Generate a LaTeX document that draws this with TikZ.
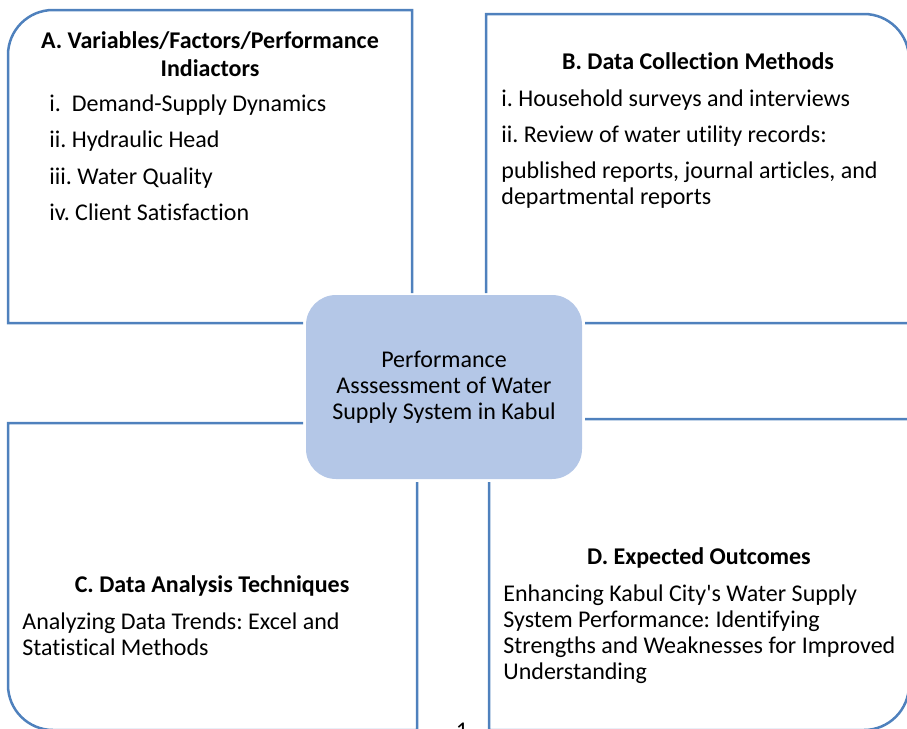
\documentclass[tikz,border=0pt]{standalone}
\usepackage{fontspec}
\setmainfont{Carlito}[Ligatures={TeX,NoCommon}]
\frenchspacing
\usepackage{tikz}
\usetikzlibrary{positioning}
\definecolor{framecol}{HTML}{4F81BD}
\definecolor{hubfill}{HTML}{B4C7E7}

\begin{document}
\begin{tikzpicture}[
x=0.5pt, y=-0.5pt,
Frames/.style={draw=framecol, line width=1.25pt},
Hub/.style={fill=hubfill, rounded corners=15pt, minimum width=138pt, minimum height=92pt, inner sep=0pt, align=center, font=\fontsize{12}{13}\selectfont},
Heads/.style={font=\fontsize{12}{13}\selectfont\bfseries, inner sep=0pt, anchor=base},
Items/.style={font=\fontsize{12}{13}\selectfont, inner sep=0pt, anchor=base west}
]
\useasboundingbox (0,0) rectangle (907,729);
\clip (0,0) rectangle (907,729);

% four quarter frames, one rounded outer corner each
\draw[Frames] (303,323) -- (8,323) -- (8,55) arc(180:270:45) -- (412,10) -- (412,293);
\draw[Frames] (486,293) -- (486,14) -- (864,14) arc(270:360:45) -- (909,323) -- (585,323);
\draw[Frames] (303,423) -- (8,423) -- (8,685) arc(180:90:45) -- (417,730) -- (417,482);
\draw[Frames] (585,419) -- (909,419) -- (909,685) arc(0:90:45) -- (489,730) -- (489,482);

% centre
\node[Hub] (hub) at (444,387) {Performance\\Asssessment of Water\\Supply System in Kabul};

% A
\node[Heads] (headA) at (210,48) {\begin{tabular}[t]{@{}c@{}}A. Variables/Factors/Performance\\[1pt] Indiactors\end{tabular}};
\node[Items] (listA) at (49,111) {\begin{tabular}[t]{@{}l@{}}
i.\ \ Demand-Supply Dynamics\\[5.3pt]
ii. Hydraulic Head\\[5.3pt]
iii. Water Quality\\[5.3pt]
iv. Client Satisfaction
\end{tabular}};

% B
\node[Heads] (headB) at (698,69) {B. Data Collection Methods};
\node[Items] (listB) at (501,106) {\begin{tabular}[t]{@{}l@{}}
i. Household surveys and interviews\\[5pt]
ii. Review of water utility records:\\[5pt]
published reports, journal articles, and\\
departmental reports
\end{tabular}};

% C
\node[Heads] (headC) at (212,592) {C. Data Analysis Techniques};
\node[Items] (listC) at (22,629) {\begin{tabular}[t]{@{}l@{}}
Analyzing Data Trends: Excel and\\
Statistical Methods
\end{tabular}};

% D
\node[Heads] (headD) at (699,564) {D. Expected Outcomes};
\node[Items] (listD) at (503,601) {\begin{tabular}[t]{@{}l@{}}
Enhancing Kabul City\textquotesingle s Water Supply\\
System Performance: Identifying\\
Strengths and Weaknesses for Improved\\
Understanding
\end{tabular}};

% page number, cut by the bottom edge
\node[Items, anchor=base] (pagenum) at (462,738) {1};

\end{tikzpicture}
\end{document}
